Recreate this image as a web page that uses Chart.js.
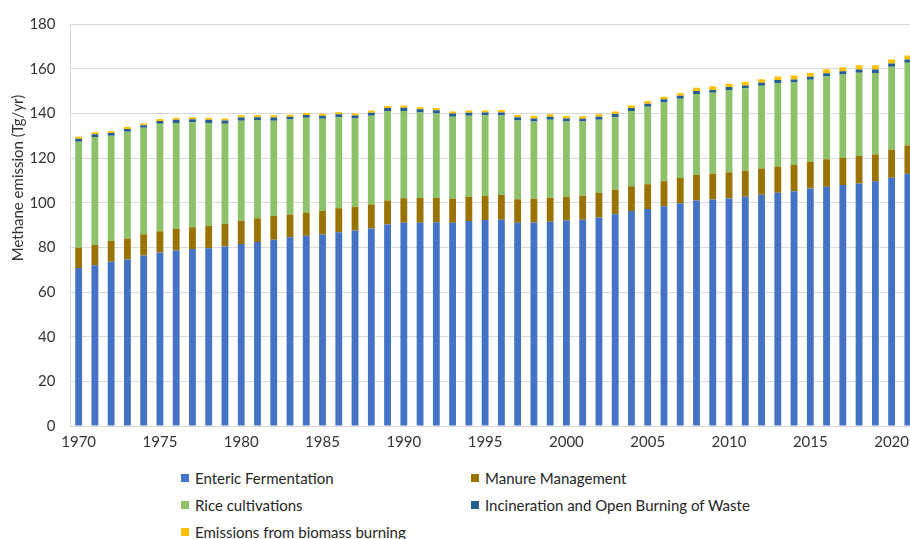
<!DOCTYPE html>
<html>
<head>
<meta charset="utf-8">
<script src="https://cdn.jsdelivr.net/npm/chart.js@4.4.1/dist/chart.umd.min.js"></script>
<style>
  html, body { margin: 0; padding: 0; background: #fff; overflow: hidden; }
  body { width: 910px; height: 539px; position: relative; font-family: Lato, sans-serif; }
  #wrap { position: absolute; left: 0; top: 0; width: 917px; height: 460px; }
  #legend { position: absolute; left: 181px; top: 464px; display: grid;
            grid-template-columns: 290px 330px; grid-auto-rows: 27px; }
  .item { display: flex; align-items: center; font-size: 15px; color: #262626; white-space: nowrap; }
  .box { width: 8px; height: 8px; margin-right: 6px; flex: none; }
</style>
</head>
<body>
<div id="wrap"><canvas id="chart" width="917" height="460"></canvas></div>
<div id="legend"></div>
<script>
  // ---- Data ------------------------------------------------
  const YEARS = [];
  for (let y = 1970; y <= 2021; y++) YEARS.push(String(y));

  const ENTERIC = [
    70.8, 72.0, 73.5, 74.5, 76.3, 77.7, 78.6, 79.3, 79.6, 80.4,
    81.5, 82.4, 83.4, 84.5, 85.2, 85.8, 86.8, 87.5, 88.4, 90.2,
    91.0, 91.0, 91.2, 91.0, 91.8, 92.2, 92.4, 91.0, 91.1, 91.4,
    92.0, 92.4, 93.4, 94.8, 96.3, 97.2, 98.4, 99.7, 101.0, 101.4,
    101.9, 102.6, 103.5, 104.4, 105.1, 106.3, 107.1, 107.9, 108.6, 109.6,
    111.2, 113.0,
  ];
  const MANURE = [
    9.0, 9.1, 9.3, 9.4, 9.6, 9.5, 9.7, 9.7, 10.0, 10.1,
    10.4, 10.6, 10.6, 10.2, 10.4, 10.5, 10.7, 10.7, 10.8, 10.8,
    11.0, 11.1, 10.9, 10.8, 10.8, 10.8, 11.0, 10.5, 10.7, 10.8,
    10.7, 10.7, 11.0, 11.0, 11.0, 11.1, 11.2, 11.4, 11.4, 11.6,
    11.7, 11.7, 11.8, 11.8, 11.8, 12.0, 12.3, 12.1, 12.3, 12.0,
    12.5, 12.6,
  ];
  const RICE = [
    47.5, 48.3, 47.2, 47.8, 47.6, 48.1, 47.4, 47.0, 46.1, 44.8,
    44.8, 44.0, 42.7, 42.5, 42.4, 41.3, 40.8, 39.5, 39.7, 40.0,
    39.1, 38.3, 37.8, 36.7, 36.3, 36.1, 35.6, 35.3, 34.5, 34.9,
    33.6, 33.2, 32.7, 32.5, 33.7, 34.6, 35.2, 35.4, 36.3, 36.2,
    36.9, 36.9, 37.1, 37.4, 36.9, 36.7, 37.1, 37.4, 37.3, 36.5,
    37.2, 37.0,
  ];
  const INCINERATION = [
    1.3, 1.2, 1.2, 1.3, 1.2, 1.3, 1.4, 1.4, 1.4, 1.5,
    1.4, 1.2, 1.4, 1.3, 1.2, 1.3, 1.3, 1.3, 1.4, 1.4,
    1.4, 1.4, 1.5, 1.4, 1.4, 1.3, 1.4, 1.4, 1.4, 1.4,
    1.4, 1.3, 1.4, 1.4, 1.4, 1.4, 1.5, 1.4, 1.3, 1.3,
    1.3, 1.3, 1.3, 1.3, 1.4, 1.4, 1.4, 1.4, 1.4, 1.5,
    1.4, 1.5,
  ];
  const BIOMASS = [
    0.9, 0.9, 0.8, 0.9, 0.8, 0.9, 0.9, 0.9, 0.9, 0.9,
    1.0, 0.9, 1.0, 0.9, 0.9, 0.9, 0.9, 0.9, 1.0, 0.9,
    1.0, 0.9, 1.0, 0.9, 1.0, 0.9, 1.1, 1.1, 1.1, 1.1,
    1.1, 1.1, 1.1, 1.1, 1.1, 1.1, 1.1, 1.1, 1.5, 1.6,
    1.5, 1.6, 1.6, 1.6, 1.7, 1.7, 1.8, 1.8, 1.9, 1.9,
    1.8, 1.8,
  ];

  const Y_TICKS = [0, 20, 40, 60, 80, 100, 120, 140, 160, 180];
  const Y_TITLE = 'Methane emission (Tg/yr)';

  const SERIES = [
    { label: 'Enteric Fermentation', data: ENTERIC, color: '#4472C4' },
    { label: 'Manure Management', data: MANURE, color: '#9A7200' },
    { label: 'Rice cultivations', data: RICE, color: '#8DC26B' },
    { label: 'Incineration and Open Burning of Waste', data: INCINERATION, color: '#255E91' },
    { label: 'Emissions from biomass burning', data: BIOMASS, color: '#FFC000' },
  ];

  // ---- Chart -----------------------------------------------
  const FONT = { family: 'Lato, sans-serif', size: 15 };
  const TEXT = '#333333';
  const GRID = '#d9d9d9';

  // y-axis title sits above centre in the original, so draw it by hand
  const yTitlePlugin = {
    id: 'yTitle',
    afterDraw(chart) {
      const ctx = chart.ctx;
      ctx.save();
      ctx.translate(18, 178);
      ctx.rotate(-Math.PI / 2);
      ctx.font = '15px Lato, sans-serif';
      ctx.fillStyle = TEXT;
      ctx.textAlign = 'center';
      ctx.textBaseline = 'middle';
      ctx.fillText(Y_TITLE, 0, 0);
      ctx.restore();
    },
  };

  const chart = new Chart(document.getElementById('chart'), {
    type: 'bar',
    data: {
      labels: YEARS,
      datasets: SERIES.map((s) => ({
        label: s.label,
        data: s.data,
        backgroundColor: s.color,
        borderWidth: 0,
        barPercentage: 0.42,
        categoryPercentage: 1,
      })),
    },
    options: {
      responsive: false,
      animation: false,
      layout: { padding: { left: 0, right: 1, top: 17, bottom: 0 } },
      scales: {
        x: {
          stacked: true,
          grid: { display: false, drawTicks: false },
          border: { display: true, color: GRID },
          ticks: {
            autoSkip: false,
            maxRotation: 0,
            padding: 7,
            color: TEXT,
            font: FONT,
            callback: function (v) {
              const lbl = this.getLabelForValue(v);
              return Number(lbl) % 5 === 0 ? lbl : '';
            },
          },
          afterFit: (s) => { s.height = 34; },
        },
        y: {
          stacked: true,
          min: Y_TICKS[0],
          max: Y_TICKS[Y_TICKS.length - 1],
          grid: { color: GRID, drawTicks: false },
          border: { display: true, color: GRID },
          ticks: { stepSize: 20, padding: 15, color: TEXT, font: FONT },
          afterFit: (s) => { s.width = 70.5; },
        },
      },
      plugins: {
        legend: { display: false },
        tooltip: { enabled: false },
      },
    },
    plugins: [yTitlePlugin],
  });

  // ---- Legend (two columns, like the original) -------------
  const legend = document.getElementById('legend');
  SERIES.forEach((s) => {
    const item = document.createElement('div');
    item.className = 'item';
    item.innerHTML = '<span class="box" style="background:' + s.color + '"></span>' + s.label;
    legend.appendChild(item);
  });
</script>
</body>
</html>
